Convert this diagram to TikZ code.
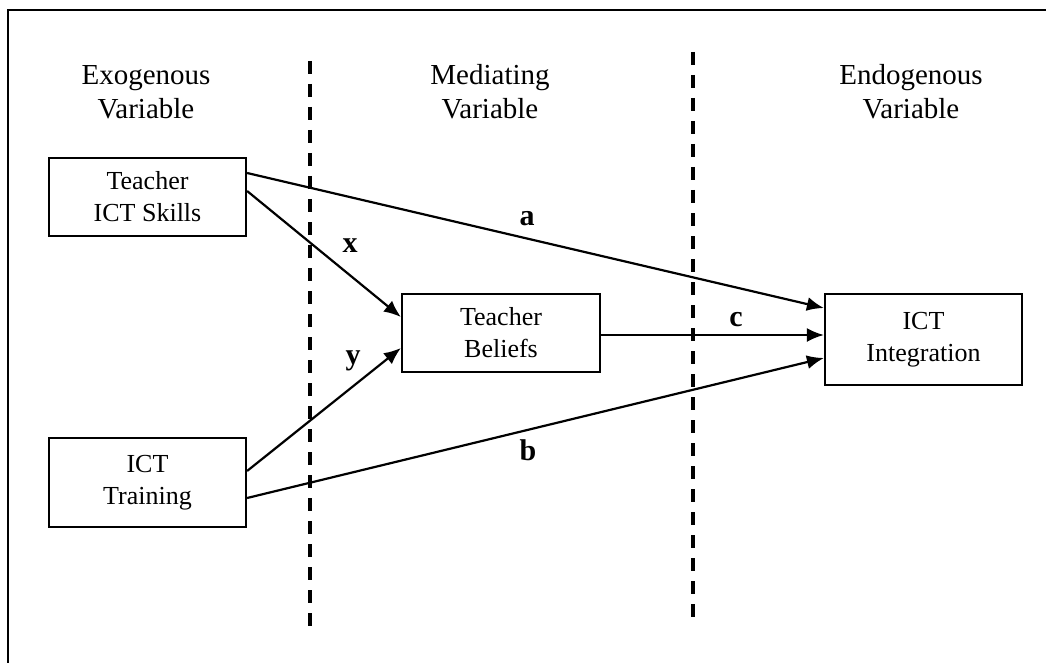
\documentclass[tikz,border=0pt]{standalone}
\usepackage{fontspec}
\setmainfont{Liberation Serif}
\usetikzlibrary{arrows.meta}
\begin{document}
\begin{tikzpicture}[x=1pt,y=-1pt,
  box/.style={draw,line width=2.2pt,inner sep=0pt,align=center,font=\fontsize{26}{32}\selectfont},
  head/.style={align=center,font=\fontsize{29}{34}\selectfont},
  lbl/.style={font=\fontsize{30}{34}\selectfont\bfseries,inner sep=0pt},
  conn/.style={line width=2.2pt,-{Latex[length=17pt,width=14pt]}},
  divider/.style={line width=3.3pt,dash pattern=on 13pt off 10pt}]
\useasboundingbox (0,0) rectangle (1046,663);
% outer frame (right and bottom edges lie outside the picture)
\draw[line width=2.5pt] (8,670) -- (8,10) -- (1056,10);
% headings
\node[head] (h1) at (146,92) {Exogenous\\Variable};
\node[head] (h2) at (490,92) {Mediating\\Variable};
\node[head] (h3) at (911,92) {Endogenous\\Variable};
% dividers
\coordinate (d1t) at (310,61);
\coordinate (d1b) at (310,632);
\coordinate (d2t) at (693,52);
\coordinate (d2b) at (693,625);
\draw[divider] (d1t) -- (d1b);
\draw[divider] (d2t) -- (d2b);
% boxes
\node[box,minimum width=197pt,minimum height=78pt] (tsk) at (147.5,197) {Teacher\\ICT Skills};
\node[box,minimum width=197pt,minimum height=89pt] (tr) at (147.5,482.5) {ICT\\Training};
\node[box,minimum width=198pt,minimum height=78pt] (tb) at (501,333) {Teacher\\Beliefs};
\node[box,minimum width=197pt,minimum height=91pt] (ii) at (923.5,339.5) {ICT\\Integration};
% connectors
\draw[conn] ([yshift=24pt]tsk.east) -- ([yshift=31.5pt]ii.west);
\draw[conn] ([yshift=6pt]tsk.east) -- ([yshift=16pt]tb.west);
\draw[conn] ([yshift=11.5pt]tr.east) -- ([yshift=-15pt]tb.west);
\draw[conn] ([yshift=-15.5pt]tr.east) -- ([yshift=-18.5pt]ii.west);
\draw[conn] ([yshift=-2pt]tb.east) -- ([yshift=4.5pt]ii.west);
% labels
\node[lbl] (la) at (527,219) {a};
\node[lbl] (lx) at (350,246) {x};
\node[lbl] (ly) at (353,361) {y};
\node[lbl] (lb) at (528,450) {b};
\node[lbl] (lc) at (736,320) {c};
\end{tikzpicture}
\end{document}
